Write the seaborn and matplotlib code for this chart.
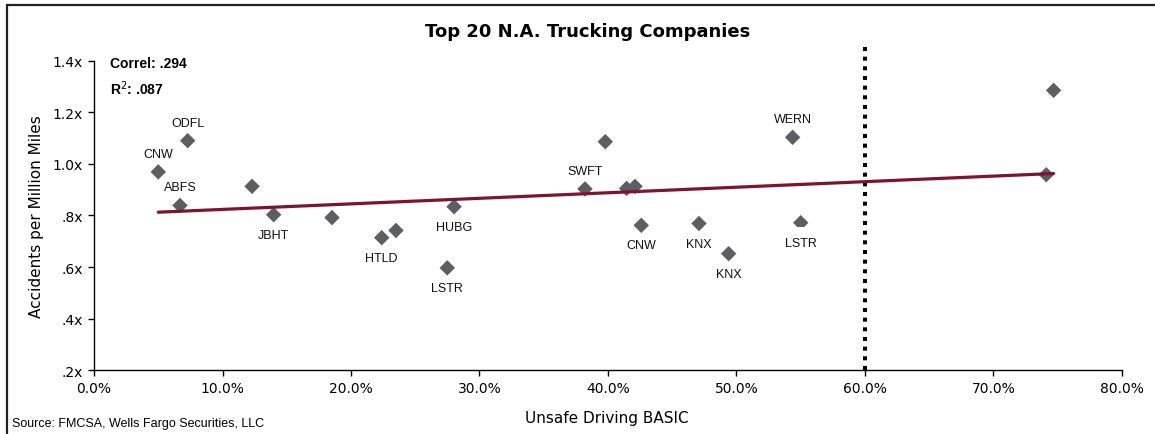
import numpy as np
import pandas as pd
import matplotlib
matplotlib.use('Agg')
import matplotlib.pyplot as plt
import matplotlib.ticker as mticker
from matplotlib.patches import Rectangle
import seaborn as sns

# Unsafe Driving BASIC (fraction) vs accidents per million miles
unsafe_driving = [0.0500, 0.0729, 0.0669, 0.1230, 0.1398, 0.1852, 0.2239, 0.2350,
                  0.2802, 0.2749, 0.3821, 0.3979, 0.4145, 0.4210, 0.4259, 0.4708,
                  0.4939, 0.5437, 0.5500, 0.7411, 0.7468]
accidents = [0.969, 1.090, 0.839, 0.913, 0.803, 0.792, 0.714, 0.742,
             0.834, 0.597, 0.903, 1.086, 0.905, 0.913, 0.762, 0.769,
             0.652, 1.103, 0.772, 0.958, 1.285]
tickers = ['CNW', 'ODFL', 'ABFS', '', 'JBHT', '', 'HTLD', '',
           'HUBG', 'LSTR', 'SWFT', '', '', '', 'CNW', 'KNX',
           'KNX', 'WERN', 'LSTR', '', '']
label_above = [True, True, True, False, False, False, False, False,
               False, False, True, False, False, False, False, False,
               False, True, False, False, False]

x_ticks = [0.0, 0.1, 0.2, 0.3, 0.4, 0.5, 0.6, 0.7, 0.8]
y_ticks = [0.2, 0.4, 0.6, 0.8, 1.0, 1.2, 1.4]
threshold = 0.60

df = pd.DataFrame({'unsafe': unsafe_driving, 'acc': accidents, 'ticker': tickers})

sns.set_style('white')
plt.rcParams['font.family'] = ['DejaVu Sans']
plt.rcParams['text.color'] = 'black'
plt.rcParams['axes.labelcolor'] = 'black'

fig = plt.figure(figsize=(11.55, 4.35), dpi=100)
ax = fig.add_axes([0.0814, 0.1464, 0.8900, 0.7118])

sns.scatterplot(data=df, x='unsafe', y='acc', marker='D', s=62, color='#5b5e63',
                edgecolor='none', ax=ax, zorder=3)
sns.regplot(data=df, x='unsafe', y='acc', scatter=False, ci=None, ax=ax,
            line_kws={'color': '#7d1530', 'lw': 2.3, 'zorder': 4})

ax.axvline(threshold, ymin=0, ymax=1.044, color='black', lw=2.9,
           linestyle=(0, (1, 1.4)), dash_capstyle='butt', clip_on=False, zorder=2)

# the LSTR box at 55% hides the lower half of its marker in the original
for i, (xv, yv, name, up) in enumerate(zip(unsafe_driving, accidents, tickers, label_above)):
    if not name:
        continue
    pad = 0.75 if i == 18 else 0.1
    ax.annotate(name, (xv, yv), xytext=(0, 13 if up else -14.5),
                textcoords='offset points', ha='center', va='center',
                fontsize=9, family='Liberation Sans', color='#111111', zorder=5,
                bbox=dict(boxstyle=f'square,pad={pad}', fc='white', ec='none'))

ax.set_xlim(0, 0.8)
ax.set_ylim(0.2, 1.4)
ax.set_xticks(x_ticks)
ax.set_yticks(y_ticks)
ax.xaxis.set_major_formatter(mticker.FuncFormatter(lambda v, p: f'{v:.1%}'))
ax.yaxis.set_major_formatter(mticker.FuncFormatter(
    lambda v, p: (f'{v:.1f}'.lstrip('0') if v < 1 else f'{v:.1f}') + 'x'))
ax.tick_params(axis='both', labelsize=10, length=4, width=1, direction='out',
               colors='black', pad=4, bottom=True, left=True)
for s in ['top', 'right']:
    ax.spines[s].set_visible(False)
for s in ['left', 'bottom']:
    ax.spines[s].set_color('black')
    ax.spines[s].set_linewidth(1)

ax.set_xlabel('Unsafe Driving BASIC', fontsize=11)
ax.set_ylabel('Accidents per Million Miles', fontsize=11)
ax.xaxis.set_label_coords(0.499, -0.128)
ax.yaxis.set_label_coords(-0.049, 0.5)

ax.text(0.0156, 0.9926, 'Correl: .294', transform=ax.transAxes, fontsize=10,
        weight='bold', family='Liberation Sans', va='center', ha='left')
ax.text(0.0156, 0.912, r'R$^2$: .087', transform=ax.transAxes, fontsize=10,
        weight='bold', family='Liberation Sans', va='center', ha='left')

fig.text(0.509, 0.926, 'Top 20 N.A. Trucking Companies', ha='center', va='center',
         fontsize=13, weight='bold')
fig.text(12 / 1155, 1 - 424 / 435, 'Source: FMCSA, Wells Fargo Securities, LLC',
         ha='left', va='center', fontsize=9, family='Liberation Sans')

fig.patches.append(Rectangle((7 / 1155, -0.1), 1.2, 1.1 - 6 / 435, fill=False,
                             ec='#222222', lw=1.6, transform=fig.transFigure,
                             figure=fig, clip_on=False))

fig.savefig('out.png', dpi=100)
